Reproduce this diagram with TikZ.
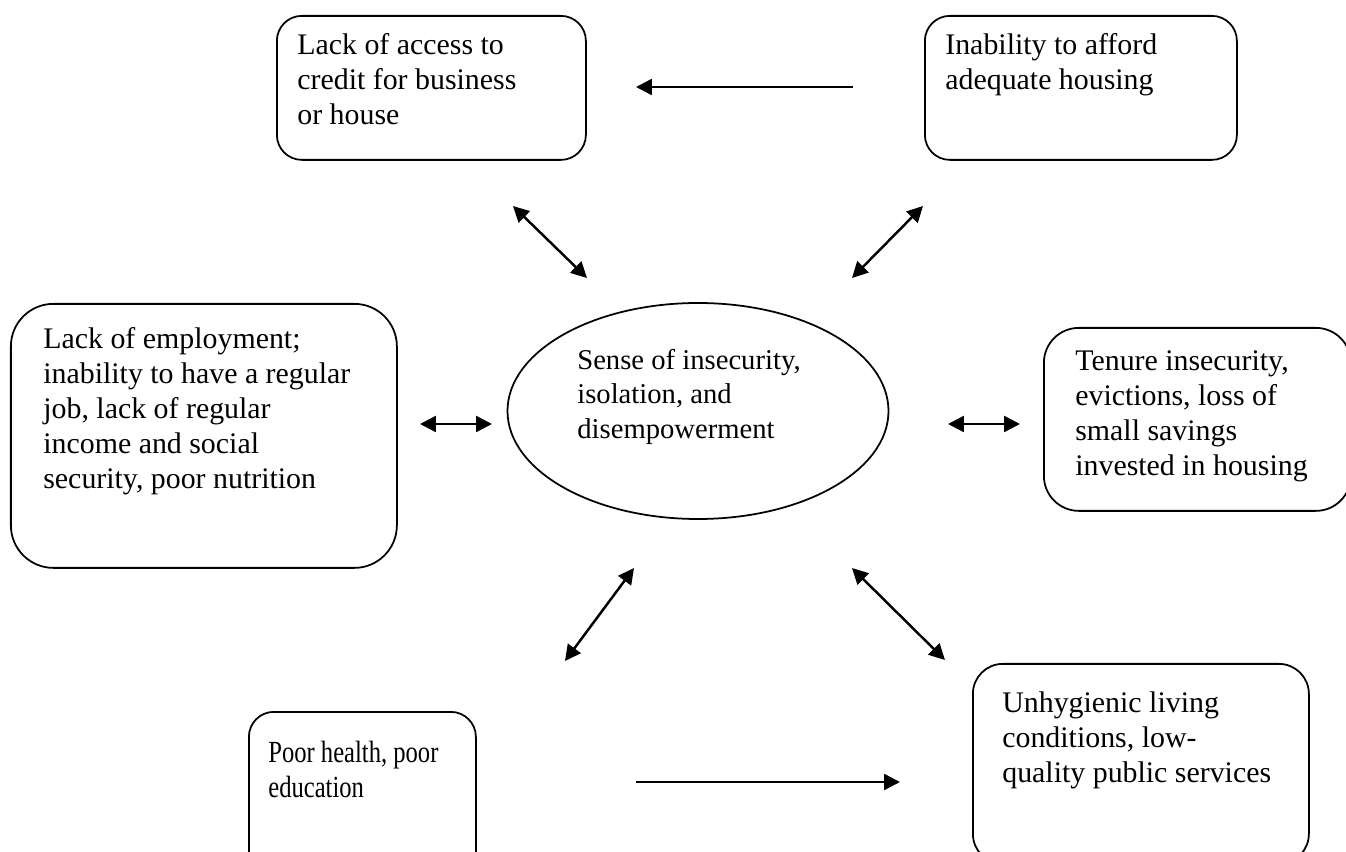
\documentclass[tikz,border=0pt]{standalone}
\usepackage{fontspec}
\setmainfont{Liberation Serif}
\newfontfamily\narrowfont[FakeStretch=0.8]{Liberation Serif}
\usepackage{tikz}
\usetikzlibrary{arrows.meta,shapes.geometric}

\begin{document}
\begin{tikzpicture}[
    box/.style={draw, line width=1pt, anchor=north west},
    txt/.style={anchor=north west, align=left, inner sep=0pt, font=\fontsize{17}{20}\selectfont},
    link/.style={line width=1.4pt, -{Triangle[length=9pt,width=9pt]}},
    both/.style={line width=1.4pt, {Triangle[length=9pt,width=9pt]}-{Triangle[length=9pt,width=9pt]}}]
  \useasboundingbox (0,0) rectangle (26.92,-17.04);
  \clip (0,0) rectangle (26.92,-17.04);
  % boxes
  \node[box, rounded corners=0.5cm, minimum width=6.18cm, minimum height=2.88cm] (credit) at (5.52,-0.30) {};
  \node[txt] (creditt) at ([shift={(0.42,-0.36)}]credit.north west) {Lack of access to\\credit for business\\or house};
  \node[box, rounded corners=0.5cm, minimum width=6.24cm, minimum height=2.88cm] (afford) at (18.48,-0.30) {};
  \node[txt] (affordt) at ([shift={(0.42,-0.36)}]afford.north west) {Inability to afford\\adequate housing};
  \node[box, rounded corners=0.85cm, minimum width=7.72cm, minimum height=5.28cm] (employ) at (0.20,-6.06) {};
  \node[txt] (employt) at ([shift={(0.66,-0.48)}]employ.north west) {Lack of employment;\\inability to have a regular\\job, lack of regular\\income and social\\security, poor nutrition};
  \node[box, rounded corners=0.7cm, minimum width=6.14cm, minimum height=3.66cm] (tenure) at (20.86,-6.54) {};
  \node[txt] (tenuret) at ([shift={(0.64,-0.46)}]tenure.north west) {Tenure insecurity,\\evictions, loss of\\small savings\\invested in housing};
  \node[box, rounded corners=0.5cm, minimum width=4.54cm, minimum height=3.4cm] (health) at (4.96,-14.22) {};
  \node[txt, font=\narrowfont\fontsize{17.5}{20}\selectfont] (healtht) at ([shift={(0.40,-0.60)}]health.north west) {Poor health, poor\\education};
  \node[box, rounded corners=0.6cm, minimum width=6.72cm, minimum height=4.0cm] (hygiene) at (19.44,-13.26) {};
  \node[txt] (hygienet) at ([shift={(0.60,-0.56)}]hygiene.north west) {Unhygienic living\\conditions, low-\\quality public services};
  % centre
  \node[draw, ellipse, line width=1pt, minimum width=7.62cm, minimum height=4.32cm] (sense) at (13.96,-8.22) {};
  \node[txt, font=\fontsize{16.3}{19.5}\selectfont] (senset) at (11.54,-6.98) {Sense of insecurity,\\isolation, and\\disempowerment};
  % arrow ends
  \coordinate (ta) at (17.06,-1.74);  \coordinate (tb) at (12.72,-1.74);
  \coordinate (ba) at (12.72,-15.64); \coordinate (bb) at (18.00,-15.64);
  \coordinate (la) at (8.40,-8.48);   \coordinate (lb) at (9.84,-8.48);
  \coordinate (ra) at (18.96,-8.48);  \coordinate (rb) at (20.40,-8.48);
  \coordinate (ula) at (10.26,-4.12); \coordinate (ulb) at (11.74,-5.56);
  \coordinate (ura) at (17.04,-5.56); \coordinate (urb) at (18.46,-4.12);
  \coordinate (lla) at (11.30,-13.22); \coordinate (llb) at (12.68,-11.36);
  \coordinate (lra) at (17.04,-11.36); \coordinate (lrb) at (18.90,-13.20);
  \draw[link] (ta) -- (tb);
  \draw[link] (ba) -- (bb);
  \draw[both] (la) -- (lb);
  \draw[both] (ra) -- (rb);
  \draw[both] (ula) -- (ulb);
  \draw[both] (ura) -- (urb);
  \draw[both] (lla) -- (llb);
  \draw[both] (lra) -- (lrb);
\end{tikzpicture}
\end{document}
